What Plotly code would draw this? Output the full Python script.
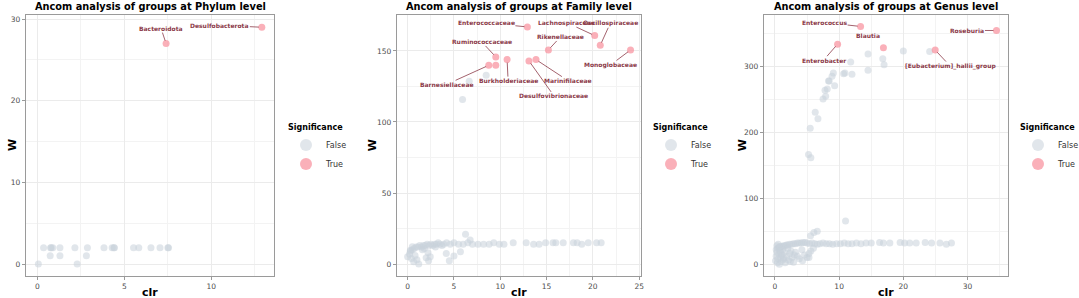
import plotly.graph_objects as go

# ---------------- data ----------------
# Phylum level
phy_false_clr = [0.36, 0.76, 0.89, 1.3, 2.16, 2.88, 3.83, 4.3, 4.43, 5.53, 5.83, 6.53, 7.05, 7.54, 7.5,
                 0.74, 1.3, 2.82, 0.06, 2.29, 0.8, 4.4]
phy_false_W = [2, 2, 2, 2, 2, 2, 2, 2, 2, 2, 2, 2, 2, 2, 2,
               1, 1, 1, 0, 0, 2, 2]
phy_true_names = ["Bacteroidota", "Desulfobacterota"]
phy_true_clr = [7.4, 12.9]
phy_true_W = [27, 29]

# Family level
fam_false_clr = [0.3, 0.5, 0.7, 0.9, 1.1, 1.3, 1.5, 1.7, 1.9, 2.1, 2.3, 2.5, 2.7, 2.9, 3.1, 3.3, 3.5, 3.7,
                 3.9, 4.2, 4.6, 5.0, 5.5, 6.0, 6.5, 7.0, 7.6, 8.2, 8.8, 9.3, 9.9, 10.4, 11.4, 12.8, 13.6,
                 14.2, 14.9, 15.7, 16.0, 16.8, 17.9, 18.3, 18.8, 19.5, 20.4, 20.9,
                 0.0, 0.3, 0.5, 0.65, 1.2, 2.0, 2.26, 2.44, 4.17, 4.5, 5.0, 5.7, 6.25, 6.75, 0.4, 0.8,
                 1.6, 2.2, 1.0, 1.8, 3.0, 0.2,
                 5.93, 6.65, 8.48]
fam_false_W = [9, 10, 11, 12, 12, 13, 12, 13, 13, 14, 13, 14, 13, 14, 14, 15, 14, 13,
               14, 15, 14, 15, 14, 14, 15, 14, 14, 14, 14, 15, 14, 14, 15, 15, 14,
               14, 15, 15, 15, 15, 15, 15, 14, 15, 15, 15,
               5.2, 9.8, 12.2, 1.6, 0, 4.5, 2.3, 5.2, 7.5, 2.3, 5.6, 8.7, 20.9, 16.9, 4, 6,
               10, 8, 3, 11, 12, 7,
               115.8, 128.7, 132.9]
fam_true_names = ["Enterococcaceae", "Lachnospiraceae", "Oscillospiraceae", "Rikenellaceae",
                  "Monoglobaceae", "Ruminococcaceae", "Barnesiellaceae", "", "Burkholderiaceae",
                  "Desulfovibrionaceae", "Marinifilaceae"]
fam_true_clr = [12.93, 20.2, 20.8, 15.2, 24.07, 9.52, 8.76, 9.52, 10.74, 13.1, 13.86]
fam_true_W = [166.9, 160.8, 154.0, 150.7, 150.7, 145.8, 139.9, 139.9, 143.9, 143.0, 143.9]

# Genus level
gen_false_clr = [0.2, 0.4, 0.6, 0.8, 1.0, 1.2, 1.4, 1.6, 1.8, 2.0, 2.3, 2.6, 2.9, 3.2, 3.5, 3.8, 4.1, 4.4,
                 4.7, 5.0, 5.4, 5.8, 6.2, 6.6, 7.0, 7.5, 8.0, 8.5, 9.0, 9.6, 10.2, 10.8, 11.4, 12.0,
                 12.7, 13.4, 14.2, 15.0, 16.3, 16.9, 17.9, 19.5, 20.2, 21.0, 22.0, 23.4, 24.4, 25.7,
                 26.7, 27.5,
                 0.1, 0.2, 0.3, 0.4, 0.5, 0.6, 0.7, 0.8, 0.9, 1.0, 1.1, 1.2, 1.3, 1.5, 1.6, 1.8, 2.0,
                 2.1, 2.3, 2.5, 2.7, 2.9, 3.2, 3.5, 3.8, 4.2, 4.6, 5.0, 5.3, 5.6, 6.0, 0.3, 0.5, 0.7,
                 4.3, 5.3, 1.4, 2.4, 3.0, 0.9,
                 5.55, 6.07, 6.6, 11.0,
                 5.24, 5.6, 5.5, 6.28, 6.7, 7.5, 7.9, 7.8, 8.15, 9.3, 8.35, 8.46, 8.9, 9.1, 10.7,
                 10.9, 12.0, 14.5, 11.8, 17.0, 16.8, 14.5, 20.0, 24.1]
gen_false_W = [22, 24, 25, 26, 27, 27, 28, 28, 29, 29, 30, 30, 31, 31, 32, 32, 32, 33,
               33, 32, 31, 32, 31, 30, 31, 32, 31, 31, 30, 31, 31, 32, 31, 31,
               32, 31, 32, 32, 33, 32, 32, 33, 32, 32, 32, 33, 32, 32,
               30, 32,
               5, 12, 18, 2, 8, 15, 0, 20, 10, 4, 14, 22, 7, 18, 2, 12, 24,
               6, 16, 20, 10, 3, 18, 12, 8, 22, 14, 10, 16, 20, 24, 28, 30, 26,
               5, 10, 9, 4, 14, 17,
               43, 48, 50, 65.5,
               166.4, 161.4, 206.3, 230.5, 220.4, 250.6, 254.7, 263.7, 265.8, 270.8, 278, 278, 285,
               290, 289, 290, 288, 294, 306.6, 302.6, 311.6, 319, 323.3, 322.7]
gen_true_names = ["Enterococcus", "Blautia", "Roseburia", "Enterobacter", "[Eubacterium]_hallii_group"]
gen_true_clr = [13.34, 16.9, 34.5, 9.76, 24.96]
gen_true_W = [360.6, 328.3, 354.5, 333.8, 324.8]

titles = ["Ancom analysis of groups at Phylum level",
          "Ancom analysis of groups at Family level",
          "Ancom analysis of groups at Genus level"]

# ---------------- style ----------------
FONT = "DejaVu Sans"
GREY_PT = "rgba(200,209,219,0.55)"
PINK_PT = "rgba(248,150,162,0.75)"
LABEL_COL = "#8b3a48"
GRID = "#ebebeb"
BORDER = "#9a9a9a"
W_PX, H_PX = 1079, 298


def px_x(X):
    return X / W_PX


def px_y(Y):
    return 1 - Y / H_PX


xdomains = [[px_x(26), px_x(274)], [px_x(397), px_x(641)], [px_x(764), px_x(1008)]]
ydomain = [px_y(276), px_y(15)]

fig = go.Figure()

panels = [
    (phy_false_clr, phy_false_W, phy_true_clr, phy_true_W, phy_true_names),
    (fam_false_clr, fam_false_W, fam_true_clr, fam_true_W, fam_true_names),
    (gen_false_clr, gen_false_W, gen_true_clr, gen_true_W, gen_true_names),
]
legends = ["legend", "legend2", "legend3"]
for i, (fx, fy, tx, ty, names) in enumerate(panels):
    ax = "x" if i == 0 else f"x{i+1}"
    ay = "y" if i == 0 else f"y{i+1}"
    fig.add_trace(go.Scatter(x=fx, y=fy, mode="markers", name="False", xaxis=ax, yaxis=ay,
                             legend=legends[i],
                             marker=dict(size=7, color=GREY_PT, line=dict(width=0)),
                             hoverinfo="skip"))
    fig.add_trace(go.Scatter(x=tx, y=ty, mode="markers", name="True", xaxis=ax, yaxis=ay,
                             legend=legends[i], text=names,
                             marker=dict(size=7, color=PINK_PT, line=dict(width=0))))

ranges_x = [[-0.65, 13.6], [-1.15, 25.2], [-1.7, 36.3]]
ranges_y = [[-1.47, 30.5], [-8.4, 175.3], [-18, 378]]
dt_x = [5, 5, 10]
dt_y = [10, 50, 100]

layout = dict(
    width=W_PX, height=H_PX,
    margin=dict(l=0, r=0, t=0, b=0, autoexpand=False),
    paper_bgcolor="white", plot_bgcolor="white",
    font=dict(family=FONT, size=8, color="#4d4d4d"),
    showlegend=True,
)
for i in range(3):
    xk = "xaxis" if i == 0 else f"xaxis{i+1}"
    yk = "yaxis" if i == 0 else f"yaxis{i+1}"
    anchor_x = "y" if i == 0 else f"y{i+1}"
    anchor_y = "x" if i == 0 else f"x{i+1}"
    layout[xk] = dict(domain=xdomains[i], anchor=anchor_x, range=ranges_x[i], dtick=dt_x[i], tick0=0,
                      automargin=False,
                      showgrid=True, gridcolor=GRID, gridwidth=1, zeroline=False,
                      minor=dict(dtick=dt_x[i] / 2, showgrid=True, gridcolor="#f3f3f3", gridwidth=0.6),
                      showline=True, linecolor=BORDER, linewidth=1.3, mirror=True,
                      ticks="outside", ticklen=3, tickcolor=BORDER,
                      tickfont=dict(size=7.5, color="#4d4d4d"))
    layout[yk] = dict(domain=ydomain, anchor=anchor_y, range=ranges_y[i], dtick=dt_y[i], tick0=0,
                      automargin=False,
                      showgrid=True, gridcolor=GRID, gridwidth=1, zeroline=False,
                      minor=dict(dtick=dt_y[i] / 2, showgrid=True, gridcolor="#f3f3f3", gridwidth=0.6),
                      showline=True, linecolor=BORDER, linewidth=1.3, mirror=True,
                      ticks="outside", ticklen=3, tickcolor=BORDER,
                      tickfont=dict(size=7.5, color="#4d4d4d"))

leg_x = [px_x(286), px_x(651), px_x(1018)]
for i, lk in enumerate(legends):
    layout[lk] = dict(x=leg_x[i], y=px_y(120), xanchor="left", yanchor="top",
                      title=dict(text="<b>Significance</b>", font=dict(size=8, color="black")),
                      font=dict(size=8, color="#333333"), bgcolor="rgba(0,0,0,0)",
                      itemsizing="constant", tracegroupgap=0)
fig.update_layout(**layout)

# panel titles and axis titles
for i in range(3):
    cx = (xdomains[i][0] + xdomains[i][1]) / 2
    fig.add_annotation(text=f"<b>{titles[i]}</b>", x=cx, y=px_y(6.5), xref="paper", yref="paper",
                       xanchor="center", yanchor="middle", showarrow=False,
                       font=dict(size=9.8, color="black", family=FONT))
    fig.add_annotation(text="<b>clr</b>", x=cx, y=px_y(292), xref="paper", yref="paper",
                       xanchor="center", yanchor="middle", showarrow=False,
                       font=dict(size=11, color="black", family=FONT))
    wx = px_x([12.5, 372.7, 742.7][i])
    fig.add_annotation(text="<b>W</b>", x=wx, y=(ydomain[0] + ydomain[1]) / 2, xref="paper",
                       yref="paper", xanchor="center", yanchor="middle", showarrow=False,
                       textangle=-90, font=dict(size=11, color="black", family=FONT))

# repelled labels (pixel offsets)
offsets = [
    [(-5, -15), (-42, -2)],
    [(-41, -4), (-28, -13), (10, -22), (12, -13), (-20, 15), (-14, -15), (-42, 19), None, (1, 21),
     (25, 35), (32, 21)],
    [(-36, -4), (-15, -12, "noarrow"), (-29, 0), (-14, 16), (15, 16)],
]
for i, (fx, fy, tx, ty, names) in enumerate(panels):
    xr = "x" if i == 0 else f"x{i+1}"
    yr = "y" if i == 0 else f"y{i+1}"
    for j, name in enumerate(names):
        off = offsets[i][j]
        if not name or off is None:
            continue
        if len(off) == 3:
            fig.add_annotation(x=tx[j], y=ty[j], xref=xr, yref=yr, text=f"<b>{name}</b>",
                               showarrow=False, xshift=off[0], yshift=-off[1],
                               font=dict(size=6, color=LABEL_COL, family=FONT))
        else:
            fig.add_annotation(x=tx[j], y=ty[j], xref=xr, yref=yr, text=f"<b>{name}</b>",
                               showarrow=True, ax=off[0], ay=off[1], axref="pixel", ayref="pixel",
                               arrowhead=0, arrowwidth=0.8, arrowcolor=LABEL_COL, standoff=3,
                               borderpad=0,
                               font=dict(size=6, color=LABEL_COL, family=FONT))

# remove the default 8px page margin so the figure sits at the window's top-left corner
fig.write_html("out.html", config={"displayModeBar": False},
               post_script="document.body.style.margin='0';document.body.style.overflow='hidden';")
